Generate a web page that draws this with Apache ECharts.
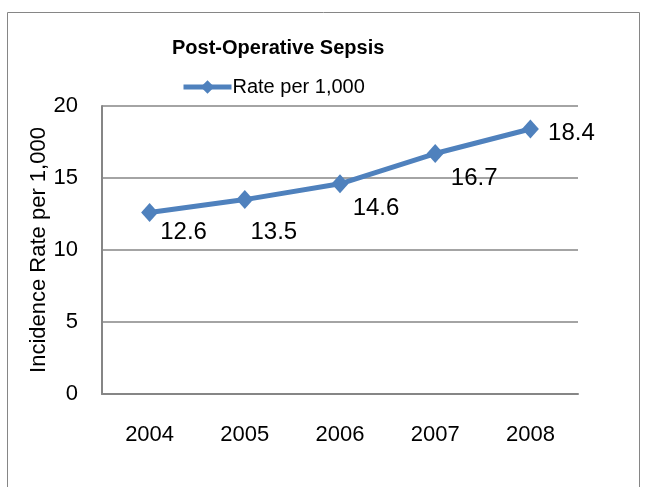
<!DOCTYPE html>
<html>
<head>
<meta charset="utf-8">
<script src="https://cdn.jsdelivr.net/npm/echarts@6/dist/echarts.min.js"></script>
<style>
html,body{margin:0;padding:0;background:#fff;}
#chart{width:645px;height:487px;}
</style>
</head>
<body>
<div id="chart"></div>
<script>
const years = ['2004', '2005', '2006', '2007', '2008'];
const rates = [12.6, 13.5, 14.6, 16.7, 18.4];
const seriesName = 'Rate per 1,000';
const titleText = 'Post-Operative Sepsis';
const yAxisName = 'Incidence Rate per 1,000';
const yTicks = [0, 5, 10, 15, 20];
// label offsets (style)
const labelOffsets = [[34, 20], [29, 33], [36, 25], [39, 25], [41, 4]];

const FONT = "'Liberation Sans', Arial, sans-serif";
const chart = echarts.init(document.getElementById('chart'), null, {renderer: 'canvas'});
chart.setOption({
  backgroundColor: '#fff',
  animation: false,
  textStyle: {fontFamily: FONT},
  title: {
    text: titleText, left: 167, top: 33,
    textStyle: {fontFamily: FONT, fontSize: 20, fontWeight: 'bold', color: '#000'}
  },
  legend: {
    data: [seriesName], top: 72, left: 176,
    itemWidth: 48, itemHeight: 17, itemGap: 4,
    lineStyle: {width: 5},
    textStyle: {fontFamily: FONT, fontSize: 20, color: '#000', padding: [0,0,0,-4]}
  },
  graphic: [{
    type: 'rect', shape: {x: 7.5, y: 12.5, width: 632, height: 490},
    style: {fill: 'none', stroke: '#868686', lineWidth: 1}, silent: true
  }],
  grid: {left: 102, top: 106, width: 476, height: 288, containLabel: false},
  xAxis: {
    type: 'category', data: years, boundaryGap: true,
    axisLine: {lineStyle: {color: '#868686', width: 2}},
    axisTick: {show: false},
    axisLabel: {fontFamily: FONT, fontSize: 22, color: '#000', margin: 30}
  },
  yAxis: {
    type: 'value', min: 0, max: 20, interval: 5,
    name: yAxisName, nameLocation: 'middle', nameGap: 52, nameRotate: 90,
    nameMoveOverlap: false,
    nameTextStyle: {fontFamily: FONT, fontSize: 22, color: '#000'},
    axisLine: {show: true, lineStyle: {color: '#868686', width: 2}},
    axisTick: {show: false},
    axisLabel: {fontFamily: FONT, fontSize: 22, color: '#000', margin: 24,
      formatter: v => yTicks.includes(v) ? String(v) : ''},
    splitLine: {lineStyle: {color: '#868686', width: 1.5}}
  },
  series: [{
    name: seriesName, type: 'line',
    data: rates.map((v, i) => ({
      value: v,
      label: {show: true, position: 'inside', offset: labelOffsets[i]}
    })),
    symbol: 'diamond', symbolSize: [17, 19],
    lineStyle: {color: '#4F81BD', width: 5},
    itemStyle: {color: '#4F81BD'},
    label: {fontFamily: FONT, fontSize: 24, color: '#000',
      formatter: p => p.value.toFixed(1)}
  }]
});
</script>
</body>
</html>
